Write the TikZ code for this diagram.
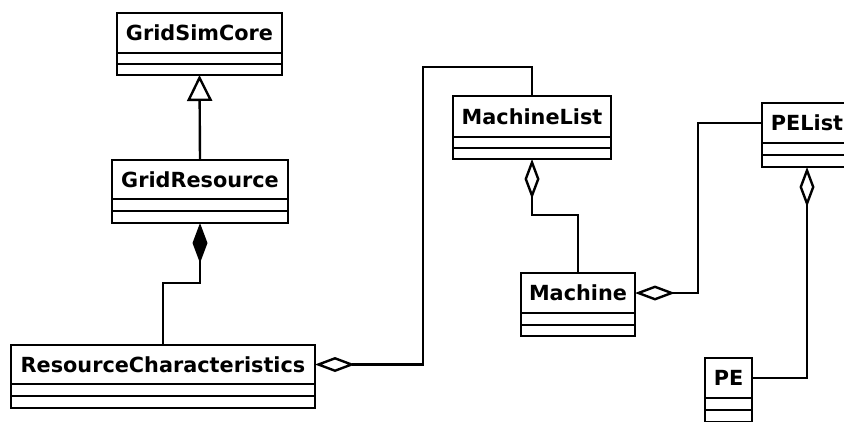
\documentclass[tikz,border=0pt]{standalone}
\usepackage{fontspec}
\setmainfont{DejaVu Sans}
\usetikzlibrary{arrows.meta}
\begin{document}
\begin{tikzpicture}[x=1pt,y=-1pt,
  cname/.style={draw=black,line width=2.8pt,fill=white,inner sep=0pt,outer sep=0pt,
    font=\bfseries\fontsize{20.8}{24}\selectfont},
  ccomp/.style={draw=black,line width=2.8pt,fill=white,inner sep=0pt,outer sep=0pt},
  conn/.style={line width=2.4pt,black},
  agg/.style={conn,{Diamond[open,length=40pt,width=15pt,line width=2.4pt]}-},
  compo/.style={conn,{Diamond[length=40pt,width=15pt]}-},
  inh/.style={conn,-{Triangle[open,length=26pt,width=25pt,line width=2.4pt]}}
]
\clip (0,0) rectangle (844,421);
\fill[white] (0,0) rectangle (844,421);

% GridSimCore
\node[cname,minimum width=165pt,minimum height=40pt,anchor=north west] (gsc) at (117,13) {GridSimCore};
\node[ccomp,minimum width=165pt,minimum height=11pt,anchor=north] (gsc2) at (gsc.south) {};
\node[ccomp,minimum width=165pt,minimum height=11pt,anchor=north] (gsc3) at (gsc2.south) {};

% GridResource
\node[cname,minimum width=176pt,minimum height=39pt,anchor=north west] (gr) at (112,160) {GridResource};
\node[ccomp,minimum width=176pt,minimum height=12pt,anchor=north] (gr2) at (gr.south) {};
\node[ccomp,minimum width=176pt,minimum height=12pt,anchor=north] (gr3) at (gr2.south) {};

% ResourceCharacteristics
\node[cname,minimum width=304pt,minimum height=39pt,anchor=north west] (rc) at (11,345) {ResourceCharacteristics};
\node[ccomp,minimum width=304pt,minimum height=12pt,anchor=north] (rc2) at (rc.south) {};
\node[ccomp,minimum width=304pt,minimum height=12pt,anchor=north] (rc3) at (rc2.south) {};

% MachineList
\node[cname,minimum width=158pt,minimum height=41pt,anchor=north west] (ml) at (453,96) {MachineList};
\node[ccomp,minimum width=158pt,minimum height=11pt,anchor=north] (ml2) at (ml.south) {};
\node[ccomp,minimum width=158pt,minimum height=11pt,anchor=north] (ml3) at (ml2.south) {};

% Machine
\node[cname,minimum width=114pt,minimum height=40pt,anchor=north west] (m) at (521,273) {Machine};
\node[ccomp,minimum width=114pt,minimum height=12pt,anchor=north] (m2) at (m.south) {};
\node[ccomp,minimum width=114pt,minimum height=11pt,anchor=north] (m3) at (m2.south) {};

% PEList
\node[cname,minimum width=90pt,minimum height=40pt,anchor=north west] (pel) at (762,103) {PEList};
\node[ccomp,minimum width=90pt,minimum height=12pt,anchor=north] (pel2) at (pel.south) {};
\node[ccomp,minimum width=90pt,minimum height=12pt,anchor=north] (pel3) at (pel2.south) {};

% PE
\node[cname,minimum width=47pt,minimum height=40pt,anchor=north west] (pe) at (705,358) {PE};
\node[ccomp,minimum width=47pt,minimum height=12pt,anchor=north] (pe2) at (pe.south) {};
\node[ccomp,minimum width=47pt,minimum height=12pt,anchor=north] (pe3) at (pe2.south) {};

% connectors
\coordinate (j1) at (423,67);
\draw[inh] (gr.north) -- (gsc3.south);
\draw[compo] (gr3.south) -- ++(0,60) -| (rc.north);
\draw[agg] (rc.east) -| (j1) -| (ml.north);
\draw[agg] (ml3.south) -- ++(0,56) -| (m.north);
\draw[agg] (m.east) -- ++(63,0) |- (pel.west);
\draw[agg] (pel3.south) -- (pel3.south |- pe.east) -- (pe.east);
\end{tikzpicture}
\end{document}
